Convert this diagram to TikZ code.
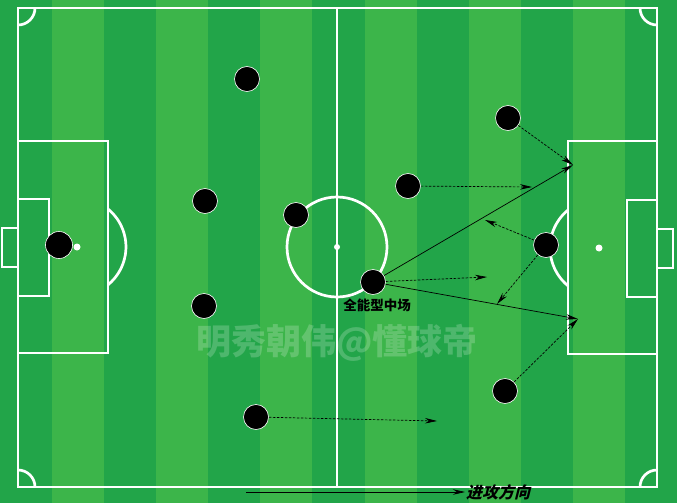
\documentclass[tikz,border=0pt]{standalone}
\usepackage{fontspec}
\newfontfamily\cjk{Noto Sans CJK SC}
\newfontfamily\cjkslant{Noto Sans CJK SC}[FakeSlant=0.25]
\usetikzlibrary{arrows.meta}
\definecolor{pitchdark}{RGB}{34,165,73}
\definecolor{pitchlight}{RGB}{60,181,74}
\begin{document}
\begin{tikzpicture}[x=1pt,y=-1pt,
  line/.style={white,line width=2.7pt},
  player/.style={circle,fill=black,draw=white,line width=0.6pt,minimum size=25pt,inner sep=0pt},
  run/.style={-{Stealth[length=12pt,width=5.5pt]},line width=0.7pt,dash pattern=on 2.5pt off 1.5pt},
  kick/.style={-{Stealth[length=12pt,width=5.5pt]},line width=0.7pt}]
\useasboundingbox (0,0) rectangle (677,503);
% stripes
\fill[pitchlight] (0,0) rectangle (677,503);
\foreach \i in {0,2,...,12}
  \fill[pitchdark] (\i*52.08,0) rectangle ++(52.08,503);
% pitch lines
\draw[line] (18,8) rectangle (657,487);
\draw[line] (337,8) -- (337,487);
\draw[line] (337,247) circle (50);
\fill[white] (337,247) circle (3);
\draw[line] (18,141) rectangle (108,353);
\draw[line] (18,199) rectangle (49,296);
\draw[line] (18,228) rectangle (2,267);
\fill[white] (77,247) circle (3.5);
\draw[line] (108,209) arc[start angle=-50.7,end angle=50.7,radius=49];
\draw[line] (568,141) rectangle (657,354);
\draw[line] (627,200) rectangle (657,297);
\draw[line] (657,229) rectangle (673,268);
\fill[white] (599,248) circle (3.5);
\draw[line] (568,210) arc[start angle=230.7,end angle=129.3,radius=49];
\draw[line] (35,8) arc[start angle=0,end angle=90,radius=17];
\draw[line] (640,8) arc[start angle=180,end angle=90,radius=17];
\draw[line] (35,487) arc[start angle=0,end angle=-90,radius=17];
\draw[line] (640,487) arc[start angle=180,end angle=270,radius=17];
% watermark
\node[text=white,opacity=0.2,font=\cjk\bfseries\fontsize{35}{35}\selectfont] (mark) at (337,343) {明秀朝伟@懂球帝};
% players
\node[player,minimum size=27pt] (gk) at (59,245) {};
\node[player] (lwb) at (247,79) {};
\node[player] (cbtop) at (205,201) {};
\node[player] (dm) at (296,215) {};
\node[player] (cbbot) at (204,306) {};
\node[player] (rwb) at (256,417) {};
\node[player] (am) at (408,186) {};
\node[player] (cm) at (373,282) {};
\node[player] (lw) at (508,118) {};
\node[player] (st) at (546,245) {};
\node[player] (rw) at (505,391) {};
\node[font=\cjk\bfseries\fontsize{13.5}{13.5}\selectfont] (cmlabel) at (377,305) {全能型中场};
% runs and passes
\coordinate (boxtop) at (573,165);
\coordinate (boxbot) at (578,319);
\coordinate (amrun) at (532,187);
\coordinate (cmrun) at (487,277);
\coordinate (stback) at (485,220);
\coordinate (stdown) at (497,304);
\coordinate (rwbrun) at (437,421);
\draw[run] (am) -- (amrun);
\draw[run] (lw) -- (boxtop);
\draw[kick] (cm) -- (boxtop);
\draw[run] (cm) -- (cmrun);
\draw[kick] (cm) -- (boxbot);
\draw[run] (st) -- (stback);
\draw[run] (st) -- (stdown);
\draw[run] (rw) -- (boxbot);
\draw[run] (rwb) -- (rwbrun);
% attacking direction
\coordinate (dirtail) at (246,492);
\node[font=\cjkslant\bfseries\fontsize{16}{16}\selectfont,anchor=west,inner sep=1pt] (dir) at (465,492) {进攻方向};
\draw[kick] (dirtail) -- (dir.west);
\end{tikzpicture}
\end{document}
